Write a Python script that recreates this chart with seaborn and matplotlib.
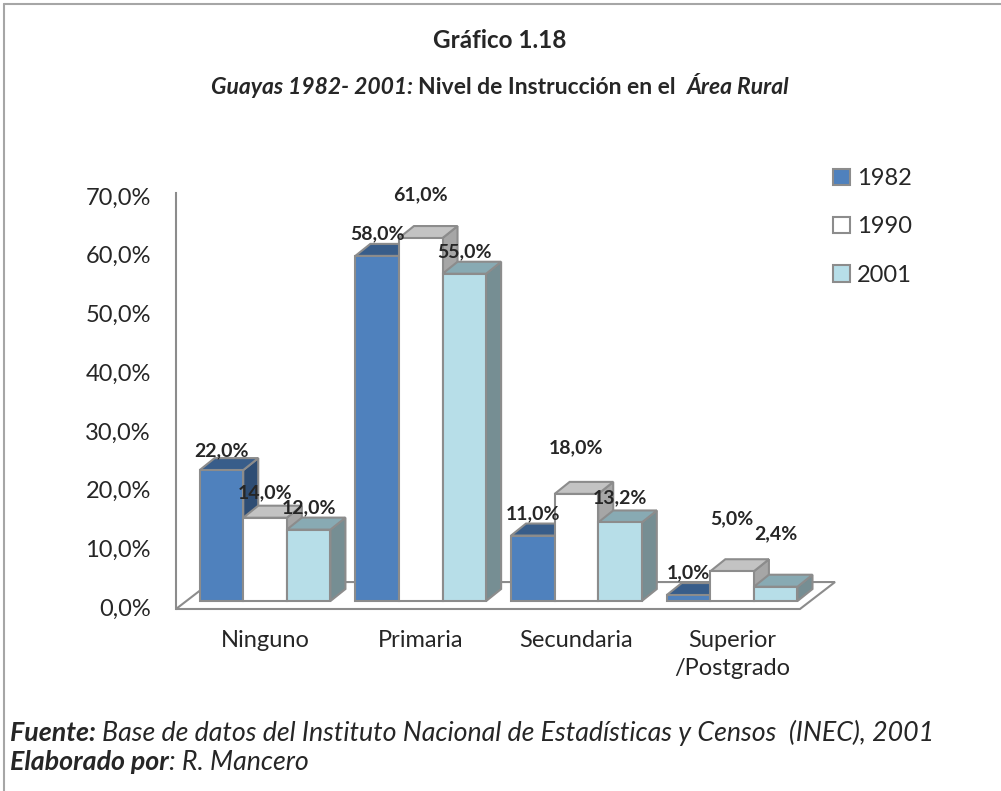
import matplotlib
matplotlib.use("Agg")
import matplotlib.pyplot as plt
from matplotlib.patches import Polygon, Patch
from matplotlib.lines import Line2D
import seaborn as sns
import pandas as pd

# data
niveles = ["Ninguno", "Primaria", "Secundaria", "Superior\n/Postgrado"]
anios = ["1982", "1990", "2001"]
v1982 = [22.0, 58.0, 11.0, 1.0]
v1990 = [14.0, 61.0, 18.0, 5.0]
v2001 = [12.0, 55.0, 13.2, 2.4]
ticks_y = [0, 10, 20, 30, 40, 50, 60, 70]

# face colours for the fake 3D look
front = ["#4F81BD", "#FFFFFF", "#B7DEE8"]
top = ["#385D8A", "#C3C3C3", "#88AAB3"]
side = ["#2E4D74", "#A6A6A6", "#768E93"]
edge = "#8C8C8C"

# extra lift (points) Excel gave some labels to keep them apart, per year
label_lift = [[-2, 0, 0, 0], [2, 15, 17, 22], [0, 0, 2, 22]]

df = pd.DataFrame({
    "nivel": niveles * 3,
    "anio": [a for a in anios for _ in niveles],
    "valor": v1982 + v1990 + v2001,
})

sns.set_style("white")
plt.rcParams["font.family"] = ["Lato", "DejaVu Sans"]

W, H = 1001, 791
fig = plt.figure(figsize=(W / 100, H / 100), dpi=100)
rect = [176 / W, 1 - 620 / H, (840 - 176) / W, (620 - 150) / H]

# back wall axis carries the value ticks
wall = fig.add_axes(rect)
wall.set_xlim(0, 1)
wall.set_ylim(-2.21, 77.85)
wall.set_yticks(ticks_y)
wall.set_yticklabels([f"{t:.1f}%".replace(".", ",") for t in ticks_y], fontsize=17)
wall.set_xticks([])
wall.tick_params(axis="y", length=0, pad=18)
for s in ["top", "right", "bottom"]:
    wall.spines[s].set_visible(False)
wall.spines["left"].set_color(edge)
wall.spines["left"].set_linewidth(1.5)
wall.spines["left"].set_bounds(-0.3, 70.5)

# bars
ax = fig.add_axes(rect)
ax.set_facecolor("none")
sns.barplot(data=df, x="nivel", y="valor", hue="anio", palette=front, width=0.84,
            saturation=1, edgecolor=edge, linewidth=1.5, legend=False, ax=ax)
ax.set_xlim(-0.572, 3.693)
ax.set_ylim(-3.19, 75.8)
dx, dy = 0.0963, 2.02

# floor
floor = Polygon([(-0.572, -1.34), (3.436, -1.34), (3.661, 3.19), (-0.347, 3.19)],
                closed=True, facecolor="white", edgecolor=edge, linewidth=1.5, zorder=1)
ax.add_patch(floor)

for k, cont in enumerate(ax.containers):
    for i, bar in enumerate(cont.patches):
        x0, w, h = bar.get_x(), bar.get_width(), bar.get_height()
        z = 10 + 3 * k
        bar.set_zorder(z + 2)
        ax.add_patch(Polygon([(x0 + w, 0), (x0 + w + dx, dy), (x0 + w + dx, h + dy), (x0 + w, h)],
                             closed=True, facecolor=side[k], edgecolor=edge, linewidth=1.5, zorder=z))
        ax.add_patch(Polygon([(x0, h), (x0 + w, h), (x0 + w + dx, h + dy), (x0 + dx, h + dy)],
                             closed=True, facecolor=top[k], edgecolor=edge, linewidth=1.5, zorder=z + 1))
        ax.annotate(f"{h:.1f}%".replace(".", ","), (x0 + w / 2, h),
                    xytext=(0, 16 + label_lift[k][i]),
                    textcoords="offset points", ha="center", va="center",
                    fontsize=14, fontweight="bold", zorder=30)

ax.set_xticks(range(len(niveles)))
ax.set_xticklabels(niveles, fontsize=17, linespacing=1.45)
ax.tick_params(axis="x", length=0, pad=7)
ax.set_yticks([])
ax.set_xlabel("")
ax.set_ylabel("")
for s in ax.spines.values():
    s.set_visible(False)

handles = [Patch(facecolor=c, edgecolor=edge, linewidth=1.5) for c in front]
fig.legend(handles, anios, loc="upper left", bbox_to_anchor=(812 / W, 1 - 147 / H),
           frameon=False, fontsize=17, handlelength=0.7, handleheight=0.7,
           labelspacing=1.15, handletextpad=0.3)

def rich_text(pieces, x, y, size, center=True):
    r = fig.canvas.get_renderer()
    arts = [fig.text(0, 1 - y / H, t, fontsize=size, fontweight=wt, fontstyle=st, va="center")
            for t, wt, st in pieces]
    widths = [a.get_window_extent(r).width for a in arts]
    pos = x - sum(widths) / 2 if center else x
    for a, w in zip(arts, widths):
        a.set_x(pos / W)
        pos += w

rich_text([("Gráfico 1.18", "bold", "normal")], 500, 40, 17.5)
rich_text([("Guayas 1982- 2001: ", "bold", "italic"),
           ("Nivel de Instrucción en el  ", "bold", "normal"),
           ("Área Rural", "bold", "italic")], 500, 88, 16.5)
rich_text([("Fuente: ", "bold", "italic"),
           ("Base de datos del Instituto Nacional de Estadísticas y Censos  (INEC), 2001", "normal", "italic")],
          10, 733, 19.3, center=False)
rich_text([("Elaborado por", "bold", "italic"), (": R. Mancero", "normal", "italic")],
          10, 762, 19.3, center=False)

# outer frame (top and left only, as in the source)
fig.add_artist(Line2D([4 / W, 1], [1 - 4 / H, 1 - 4 / H], color="#A6A6A6", linewidth=1.5))
fig.add_artist(Line2D([4 / W, 4 / W], [0, 1 - 4 / H], color="#A6A6A6", linewidth=1.5))

fig.savefig("out.png", dpi=100)
